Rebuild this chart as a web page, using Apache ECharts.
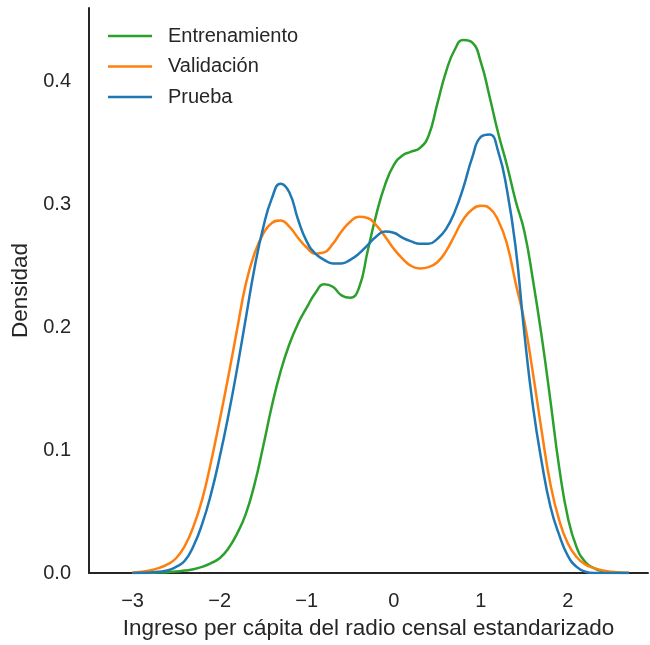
<!DOCTYPE html>
<html>
<head>
<meta charset="utf-8">
<script src="https://cdn.jsdelivr.net/npm/echarts@6/dist/echarts.min.js"></script>
<style>
  html, body { margin: 0; padding: 0; background: #fff; }
  #chart { width: 650px; height: 645px; }
</style>
</head>
<body>
<div id="chart"></div>
<script>
// x grid shared by the three density curves
const xs = [-3.0,-2.9,-2.8,-2.7,-2.6,-2.5,-2.4,-2.3,-2.2,-2.1,-2.0,-1.9,-1.8,-1.7,-1.6,-1.5,-1.4,-1.3,-1.2,-1.1,
  -1.0,-0.9,-0.8,-0.7,-0.6,-0.5,-0.4,-0.3,-0.2,-0.1,0.0,0.1,0.2,0.3,0.4,0.5,0.6,0.7,0.8,0.9,
  1.0,1.1,1.2,1.3,1.4,1.5,1.6,1.7,1.8,1.9,2.0,2.1,2.2,2.3,2.4,2.5,2.6,2.7];

const entrenamiento = [0,0,0.0002,0.0004,0.0007,0.0012,0.002,0.003,0.005,0.008,
  0.012,0.02,0.032,0.048,0.072,0.103,0.136,0.164,0.186,0.203,
  0.216,0.228,0.235,0.233,0.226,0.224,0.232,0.262,0.292,0.316,
  0.332,0.34,0.343,0.346,0.356,0.382,0.408,0.426,0.434,0.432,
  0.416,0.388,0.358,0.332,0.303,0.278,0.238,0.192,0.14,0.086,
  0.045,0.021,0.009,0.004,0.0015,0.0005,0.0001,0];

const validacion = [0.0005,0.001,0.002,0.004,0.007,0.012,0.022,0.038,0.06,0.09,
  0.124,0.16,0.198,0.235,0.26,0.276,0.285,0.287,0.282,0.273,
  0.265,0.26,0.261,0.268,0.278,0.286,0.29,0.289,0.283,0.274,
  0.264,0.256,0.25,0.248,0.249,0.253,0.262,0.275,0.288,0.296,
  0.299,0.297,0.287,0.268,0.236,0.205,0.162,0.115,0.072,0.043,
  0.024,0.013,0.007,0.004,0.002,0.001,0.0005,0.0002];

const prueba = [0,0.0002,0.0005,0.001,0.002,0.005,0.01,0.022,0.04,0.064,
  0.094,0.128,0.166,0.207,0.248,0.281,0.305,0.317,0.31,0.288,
  0.27,0.26,0.255,0.252,0.252,0.255,0.26,0.267,0.274,0.278,
  0.277,0.273,0.27,0.268,0.268,0.272,0.28,0.294,0.314,0.338,
  0.355,0.357,0.343,0.312,0.265,0.195,0.135,0.09,0.054,0.031,
  0.014,0.005,0.001,0,0,0,0,0];

const xTicks = [-3, -2, -1, 0, 1, 2];
const seriesNames = ['Entrenamiento', 'Validación', 'Prueba'];
const colors = ['#2ca02c', '#ff7f0e', '#1f77b4'];

const font = 'Arial, "Liberation Sans", sans-serif';
const ink = '#262626';

function pairs(ys) {
  return xs.map((x, i) => [x, ys[i]]);
}

const chart = echarts.init(document.getElementById('chart'));
chart.setOption({
  animation: false,
  backgroundColor: '#fff',
  color: colors,
  grid: { left: 89, top: 8, right: 2, bottom: 69 },
  legend: {
    left: 103, top: 21,
    orient: 'vertical',
    icon: 'rect',
    itemWidth: 44, itemHeight: 2.5, itemGap: 10.5,
    textStyle: { fontFamily: font, fontSize: 20, color: ink, padding: [0, 0, 0, 11] },
    data: seriesNames
  },
  xAxis: {
    type: 'value',
    min: -3.5, max: 2.92,
    name: 'Ingreso per cápita del radio censal estandarizado',
    nameLocation: 'middle',
    nameGap: 44,
    nameTextStyle: { fontFamily: font, fontSize: 22.5, color: ink },
    axisLine: { show: true, onZero: false, lineStyle: { color: ink, width: 2 } },
    axisTick: { show: false },
    splitLine: { show: false },
    axisLabel: {
      customValues: xTicks,
      margin: 18,
      fontFamily: font, fontSize: 20, color: ink,
      formatter: v => String(v).replace('-', '\u2212')
    }
  },
  yAxis: {
    type: 'value',
    min: 0, max: 0.46, interval: 0.1,
    name: 'Densidad',
    nameLocation: 'middle',
    nameGap: 54,
    nameTextStyle: { fontFamily: font, fontSize: 22.5, color: ink },
    axisLine: { show: true, onZero: false, lineStyle: { color: ink, width: 2 } },
    axisTick: { show: false },
    splitLine: { show: false },
    axisLabel: {
      showMaxLabel: false,
      margin: 18,
      fontFamily: font, fontSize: 20, color: ink,
      formatter: v => v.toFixed(1)
    }
  },
  series: [
    { name: seriesNames[0], type: 'line', data: pairs(entrenamiento) },
    { name: seriesNames[1], type: 'line', data: pairs(validacion) },
    { name: seriesNames[2], type: 'line', data: pairs(prueba) }
  ].map(s => Object.assign(s, {
    smooth: 0.5, showSymbol: false, symbol: 'none',
    lineStyle: { width: 2.5 }
  }))
});
</script>
</body>
</html>
